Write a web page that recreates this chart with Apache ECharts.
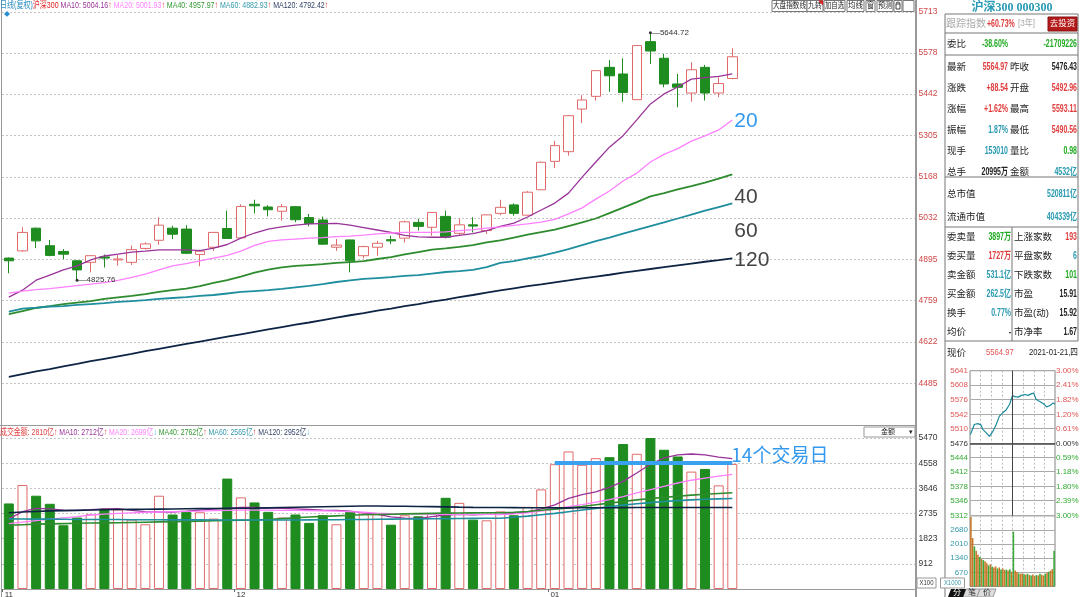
<!DOCTYPE html>
<html><head><meta charset="utf-8">
<script src="https://cdn.jsdelivr.net/npm/echarts@6.0.0/dist/echarts.min.js"></script>
<style>html,body{margin:0;padding:0;background:#fff;overflow:hidden}#c{width:1080px;height:597px}</style>
</head><body><div id="c"></div><script>
// ---------------- DATA ----------------
const dates = ['2020-11-06','2020-11-09','2020-11-10','2020-11-11','2020-11-12','2020-11-13','2020-11-16','2020-11-17','2020-11-18','2020-11-19','2020-11-20','2020-11-23','2020-11-24','2020-11-25','2020-11-26','2020-11-27','2020-11-30',
'2020-12-01','2020-12-02','2020-12-03','2020-12-04','2020-12-07','2020-12-08','2020-12-09','2020-12-10','2020-12-11','2020-12-14','2020-12-15','2020-12-16','2020-12-17','2020-12-18','2020-12-21','2020-12-22','2020-12-23','2020-12-24','2020-12-25','2020-12-28','2020-12-29','2020-12-30','2020-12-31',
'2021-01-04','2021-01-05','2021-01-06','2021-01-07','2021-01-08','2021-01-11','2021-01-12','2021-01-13','2021-01-14','2021-01-15','2021-01-18','2021-01-19','2021-01-20','2021-01-21'];
// [open, close, low, high]
const ohlc = [
[4899,4890,4849,4901],[4923,4984,4920,5001],[4998,4956,4932,5000],[4940,4908,4905,4959],[4921,4912,4896,4929],
[4890,4860,4825.76,4893],[4885,4907,4852,4909],[4903,4899,4868,4911],[4893,4896,4874,4909],[4885,4927,4876,4940],
[4931,4946,4927,4951],[4958,5008,4943,5034],[4998,4978,4962,5006],[4995,4915,4912,5008],[4911,4922,4872,4927],
[4935,4984,4923,4986],[4997,4964,4963,5056],[4966,5070,4965,5077],[5077,5072,5047,5092],[5068,5059,5037,5074],
[5054,5069,5023,5078],[5069,5026,5018,5071],[5033,5013,5004,5045],[5025,4945,4944,5036],[4935,4942,4923,4962],
[4959,4890,4852,4960],[4907,4937,4898,4940],[4935,4948,4907,4956],[4960,4956,4945,4973],[4965,5019,4951,5023],
[5017,5004,4990,5028],[5001,5050,4973,5051],[5037,4968,4964,5056],[4981,5009,4973,5030],[5009,5005,4984,5034],
[4990,5042,4979,5043],[5047,5067,5041,5092],[5075,5047,5039,5080],[5041,5117,5040,5121],[5125,5216,5124,5218],
[5219,5271,5197,5287],[5251,5370,5238,5371],[5392,5422,5346,5438],[5434,5519,5420,5520],[5530,5502,5449,5554],
[5508,5447,5416,5560],[5423,5602,5422,5603],[5615,5584,5541,5644.72],[5560,5475,5464,5574],[5475,5464,5398,5508],
[5445,5522,5416,5547],[5530,5445,5420,5538],[5445,5476.43,5431,5497],[5492.96,5564.97,5490.56,5593.11]];
const ma10 = [4770,4793,4826,4843,4860,4873,4893,4906,4912,4919,4922,4926,4926,4926,4924,4932,4944,4965,4982,4995,5002,5008,5012,5013,5014,5008,5000,4992,4984,4974,4969,4968,4968,4974,4980,4990,5004,5015,5035,5058,5081,5114,5167,5217,5266,5304,5356,5409,5442,5465,5491,5496,5500,5508];
const ma20 = [4783,4790,4795,4798,4803,4808,4813,4818,4825,4835,4846,4860,4873,4881,4890,4899,4908,4922,4941,4954,4959,4962,4965,4967,4970,4972,4975,4979,4982,4984,4984,4984,4986,4990,4993,4998,5002,5007,5012,5018,5027,5045,5065,5094,5121,5154,5180,5217,5242,5261,5286,5303,5323,5356];
const ma40 = [4714,4724,4734,4740,4747,4752,4757,4764,4769,4774,4780,4787,4793,4798,4806,4817,4826,4838,4851,4861,4868,4873,4876,4879,4883,4886,4889,4896,4902,4911,4919,4927,4931,4936,4942,4951,4958,4967,4977,4985,4993,5005,5017,5030,5048,5066,5084,5103,5114,5126,5137,5149,5162,5176];
const ma60 = [4722,4732,4735,4739,4740,4744,4747,4750,4754,4757,4760,4764,4767,4770,4774,4777,4782,4787,4790,4793,4797,4802,4807,4813,4820,4825,4830,4833,4836,4840,4843,4848,4853,4856,4860,4869,4883,4889,4898,4906,4917,4929,4942,4955,4967,4980,4992,5005,5017,5030,5043,5056,5068,5080];
const ma120 = [4506,4515,4524,4532,4541,4549,4558,4566,4574,4582,4591,4599,4607,4615,4623,4631,4639,4647,4655,4663,4671,4679,4686,4694,4702,4710,4717,4725,4732,4740,4747,4755,4762,4770,4777,4785,4792,4799,4806,4812,4819,4825,4832,4838,4844,4851,4857,4863,4869,4875,4881,4887,4892,4898];
// turnover (亿)
const amount = [3099,3768,3379,3087,2309,2588,2710,2917,2880,2516,2345,3379,2698,2795,2780,2552,3999,3318,3136,2795,2588,2698,2394,2674,2345,2795,2734,2710,2330,2671,2634,2732,3304,3121,2513,2488,2810,2671,2975,3608,4521,4983,4500,4740,4776,5251,4898,5470,5044,4801,4253,4350,3754,4532];
const vma10 = [2540,2800,2920,2900,2860,2850,2870,2900,2910,2850,2800,2790,2790,2820,2860,2890,2920,2960,2960,2940,2920,2900,2880,2860,2850,2820,2760,2700,2610,2570,2560,2620,2680,2700,2690,2700,2712,2740,2790,2900,3050,3280,3420,3520,3680,3900,4200,4520,4750,4860,4890,4860,4780,4720];
const vma20 = [2370,2420,2480,2530,2580,2620,2680,2710,2740,2760,2780,2790,2800,2810,2820,2840,2850,2860,2860,2860,2850,2850,2840,2830,2820,2800,2780,2750,2730,2720,2710,2700,2700,2700,2700,2700,2699,2720,2760,2820,2900,2980,3060,3150,3240,3350,3480,3600,3720,3840,3940,4020,4090,4156];
const vma40 = [2310,2330,2350,2360,2370,2380,2390,2395,2400,2410,2420,2430,2440,2450,2460,2470,2480,2490,2500,2520,2550,2580,2610,2630,2650,2670,2690,2700,2710,2720,2730,2740,2750,2755,2758,2760,2762,2780,2810,2850,2890,2940,2990,3050,3110,3170,3230,3280,3320,3360,3400,3430,3460,3486];
const vma60 = [2540,2535,2530,2530,2525,2520,2520,2515,2515,2510,2510,2510,2505,2505,2505,2500,2500,2500,2500,2500,2500,2500,2505,2510,2510,2515,2520,2525,2530,2535,2540,2545,2550,2555,2560,2562,2565,2600,2640,2690,2740,2800,2860,2920,2980,3040,3090,3130,3170,3200,3230,3250,3265,3280];
const vma120 = [2760,2790,2810,2830,2840,2850,2860,2870,2880,2885,2890,2895,2900,2905,2910,2915,2920,2925,2930,2940,2950,2960,2970,2980,2990,3000,3005,3005,3000,2995,2990,2985,2975,2965,2958,2955,2952,2948,2945,2942,2940,2940,2942,2944,2946,2948,2950,2950,2951,2951,2951,2951,2951,2951];
const priceTicks = [4485,4622,4759,4895,5032,5168,5305,5442,5578,5713];
const volTicks = [912,1823,2735,3646,4558,5470];
const streakLevel = 4558, streakStart = 40, streakEnd = 53, streakText = '14个交易日';
// intraday (mini chart)
const miniPriceTicks = [5312,5346,5378,5412,5444,5476,5510,5542,5576,5608,5641];
const miniPctLabels = ['3.00%','2.39%','1.80%','1.18%','0.59%','0.00%','0.61%','1.20%','1.82%','2.41%','3.00%'];
const miniPrevClose = 5476;
const miniVolTicks = [670,1340,2010,2680];
const intraday = [[1,5496],[8,5510],[12,5519],[22,5521],[31,5518],[36,5508],[46,5500],[55,5492],[65,5504],[74,5519],[83,5538],[93,5546],[102,5552],[112,5565],[120,5585],[126,5582],[136,5581],[145,5585],[155,5587],[164,5585],[174,5589],[180,5590],[186,5577],[193,5573],[202,5569],[209,5565],[216,5559],[226,5562],[235,5568],[240,5565]];
const intradayVol = [3300,2300,1900,1700,1500,1400,1300,1250,1200,1100,1000,1050,950,900,950,850,900,800,850,780,800,750,820,700,2600,750,680,620,600,620,580,560,600,540,520,560,500,540,520,600,560,520,600,650,700,750,820,1700];
const intradayDir = 'oogoogogoogogoogogoogogogoogoogogogoogogoogogoog';
// ---------------- CHART ----------------
const FN = '"Liberation Sans","Noto Sans CJK SC",sans-serif';
const FS = '"Liberation Sans","Noto Sans CJK SC",sans-serif';
const RED = '#E03C3C', GRN = '#22AA22', TEAL = '#2A9AB0', UPC = '#E06A6A', DNC = '#1E8C1E';
const C10 = '#993399', C20 = '#FF80FF', C40 = '#2E8B2E', C60 = '#1F8E9E', C120 = '#0E2444';
const pad = 13;
const cats = dates.concat(Array.from({length: pad}, (_, i) => 'pad' + i));
const isMonthStart = (idx) => idx < dates.length && (idx === 0 || dates[idx].slice(5, 7) !== dates[idx - 1].slice(5, 7));
const plain = (v) => String(Math.round(v));

const volData = amount.map((v, i) => ({
  value: v,
  itemStyle: ohlc[i][1] >= ohlc[i][0] ? {color: '#fff', borderColor: UPC, borderWidth: 1} : {color: DNC, borderColor: DNC, borderWidth: 1}
}));
const miniVolData = intradayVol.map((v, i) => ({value: v, itemStyle: {color: intradayDir[i] === 'g' ? '#3AAA3A' : '#C8782A'}}));

function maLine(name, data, color, width, xi, yi, endText, endColor, off) {
  const s = {name, type: 'line', data, xAxisIndex: xi, yAxisIndex: yi, symbol: 'none', silent: true,
    lineStyle: {color, width}, z: 3};
  if (endText) s.endLabel = {show: true, formatter: endText, color: endColor, fontSize: 21, fontFamily: FS, offset: off, distance: 2};
  return s;
}
const miniColor = (v) => { v = +v; return v > miniPrevClose + 1 ? '#E05555' : (v < miniPrevClose - 1 ? '#33AA33' : '#333'); };

// graphic helpers
const G = [];
function txt(x, y, text, o, sx) { G.push({type: 'text', x, y, scaleX: sx || 1, silent: true, z: 100, style: Object.assign({text, fontSize: 9, fill: '#222', fontFamily: FS, textVerticalAlign: 'middle', verticalAlign: 'middle'}, o || {})}); }
function num(x, y, text, color, align) { txt(x, y, text, {fill: color, fontSize: 10, fontWeight: 'bold', fontFamily: FN, textAlign: align || 'right', align: align || 'right'}, 0.7); }
function ln(x1, y1, x2, y2, stroke, lw, dash) { G.push({type: 'line', silent: true, z: 90, shape: {x1, y1, x2, y2}, style: {stroke, lineWidth: lw || 1, lineDash: dash || null}}); }
function rc(x, y, w, h, fill, stroke) { G.push({type: 'rect', silent: true, z: 95, shape: {x, y, width: w, height: h}, style: {fill: fill || 'none', stroke: stroke || null, lineWidth: 1}}); }

// frame lines
ln(1.5, 0, 1.5, 597, '#999', 1);
ln(916, 0, 916, 597, '#999', 2);
ln(0, 425.5, 916, 425.5, '#999', 1.2);
// header
const rs = (c) => ({fill: c, fontSize: 9.5, fontFamily: FN});
G.push({type: 'text', x: 0, y: 5, scaleX: 0.74, silent: true, z: 100, style: {
  text: '{a|日线(复权)}{b|沪深300} {c|MA10: 5004.16}{u|↑} {d|MA20: 5001.93}{u|↑} {e|MA40: 4957.97}{u|↑} {f|MA60: 4882.93}{u|↑} {g|MA120: 4792.42}{u|↑}',
  fontSize: 9.5, fontFamily: FN, textVerticalAlign: 'middle', verticalAlign: 'middle',
  rich: {a: rs('#2A8FC0'), b: rs('#E02020'), c: rs(C10), d: rs(C20), e: rs('#339933'), f: rs('#3399AA'), g: rs('#334466'), u: rs('#E03030')}}});
txt(4, 14, '◆', {fill: '#2A8FD0', fontSize: 6});
// volume header
G.push({type: 'text', x: 0, y: 432, scaleX: 0.73, silent: true, z: 100, style: {
  text: '{a|成交金额: 2810亿}{u|↑} {c|MA10: 2712亿}{u|↑} {d|MA20: 2699亿}{w|↓} {e|MA40: 2762亿}{u|↑} {f|MA60: 2565亿}{u|↑} {g|MA120: 2952亿}{w|↓}',
  fontSize: 9.5, fontFamily: FN, textVerticalAlign: 'middle', verticalAlign: 'middle',
  rich: {a: rs('#E04040'), c: rs(C10), d: rs(C20), e: rs('#339933'), f: rs('#3399AA'), g: rs('#334466'), u: rs('#E03030'), w: rs('#33BBDD')}}});
rc(864, 427, 51, 10, '#fff', '#999');
txt(888, 432, '金额', {fontSize: 7, textAlign: 'center', align: 'center'});
txt(909, 432, '▾', {fontSize: 7});
rc(917, 578, 19, 10, '#fff', '#999');
txt(926.5, 583, 'X100', {fontSize: 7, textAlign: 'center', align: 'center', fill: '#333'}, 0.85);
// toolbar
const tools = [['大盘指数线', 772, 35], ['九转', 807, 16], ['加自选', 824, 21], ['均线', 847, 17], ['窗', 866, 9], ['预测', 877, 16], ['', 894, 8], ['', 903, 11]];
tools.forEach(t => { rc(t[1], 0.5, t[2], 11, '#fff', '#777'); if (t[0]) txt(t[1] + t[2] / 2, 6, t[0], {fontSize: 8, textAlign: 'center', align: 'center'}, (t[2] - 2) / (t[0].length * 8)); });
G.push({type: 'polygon', silent: true, z: 101, shape: {points: [[818, 0.5], [823, 0.5], [823, 5.5]]}, style: {fill: '#E02020'}});
rc(896, 4, 4, 5, 'none', '#444'); G.push({type: 'arc', silent: true, z: 101, shape: {cx: 898, cy: 4, r: 2, startAngle: Math.PI, endAngle: 0}, style: {stroke: '#444', fill: 'none'}});
ln(905, 6, 911, 6, '#222', 1.5); ln(911, 3, 911, 9, '#222', 1.5);
// right info panel
txt(1012, 8, '沪深300 000300', {fill: '#2A9AB5', fontSize: 12, fontWeight: 'bold', fontFamily: '"Liberation Serif","Noto Sans CJK SC",serif', textAlign: 'center', align: 'center'});
ln(945, 14, 945, 597, '#777', 1);
ln(1078, 14, 1078, 341, '#777', 1);
[14, 33, 55, 177, 227, 341].forEach(y => ln(945, y, 1078, y, '#777', 1));
ln(1012, 227, 1012, 341, '#777', 1);
txt(946, 24, '跟踪指数', {fill: '#AAA', fontSize: 10});
num(987, 24, '+60.73%', RED, 'left');
txt(1018, 24, '[3年]', {fill: '#AAA', fontSize: 9}, 0.9);
rc(1048, 17, 29, 14, '#B51A1A', '#801010');
txt(1062.5, 24, '去投资', {fill: '#fff', fontSize: 8.5, textAlign: 'center', align: 'center'});
txt(947, 44, '委比', {fontSize: 9.5});
num(995, 44, '-38.60%', GRN, 'center');
num(1077, 44, '-21709226', GRN);
const block1 = [
  ['最新', '5564.97', RED, '昨收', '5476.43', '#222'],
  ['涨跌', '+88.54', RED, '开盘', '5492.96', RED],
  ['涨幅', '+1.62%', RED, '最高', '5593.11', RED],
  ['振幅', '1.87%', TEAL, '最低', '5490.56', RED],
  ['现手', '153010', TEAL, '量比', '0.98', GRN],
  ['总手', '20995万', '#222', '金额', '4532亿', TEAL]];
block1.forEach((r, k) => {
  const y = 67 + k * 21;
  txt(947, y, r[0], {fontSize: 9.5});
  num(1008, y, r[1], r[2]);
  txt(1010, y, r[3], {fontSize: 9.5});
  num(1077, y, r[4], r[5]);
});
const block2 = [['总市值', '520811亿'], ['流通市值', '404339亿']];
block2.forEach((r, k) => {
  const y = 194 + k * 23;
  txt(947, y, r[0], {fontSize: 9.5});
  num(1077, y, r[1], TEAL);
});
const block3 = [
  ['委卖量', '3897万', GRN, '上涨家数', '193', RED],
  ['委买量', '1727万', RED, '平盘家数', '6', TEAL],
  ['卖金额', '531.1亿', TEAL, '下跌家数', '101', GRN],
  ['买金额', '262.5亿', TEAL, '市盈', '15.91', '#222'],
  ['换手', '0.77%', TEAL, '市盈(动)', '15.92', '#222'],
  ['均价', '-', '#222', '市净率', '1.67', '#222']];
block3.forEach((r, k) => {
  const y = 237 + k * 19;
  txt(947, y, r[0], {fontSize: 9.5});
  num(1011, y, r[1], r[2]);
  txt(1014, y, r[3], {fontSize: 9.5});
  num(1077, y, r[4], r[5]);
});
txt(947, 353, '现价', {fontSize: 9.5});
txt(986, 353, '5564.97', {fill: '#E05555', fontSize: 9, fontFamily: FN}, 0.85);
txt(1078, 353, '2021-01-21,四', {fontSize: 9, fontFamily: FN, textAlign: 'right', align: 'right'}, 0.85);
rc(940.5, 578, 24, 10, '#fff', '#999');
txt(952.5, 583, 'X1000', {fontSize: 7, textAlign: 'center', align: 'center', fill: '#3399AA'}, 0.85);
G.push({type: 'polygon', silent: true, z: 100, shape: {points: [[948, 597], [951, 589], [966, 589], [963, 597]]}, style: {fill: '#111'}});
txt(957, 593, '分', {fill: '#fff', fontSize: 8, textAlign: 'center', align: 'center'});
G.push({type: 'polygon', silent: true, z: 99, shape: {points: [[963, 597], [966, 589], [980, 589], [977, 597]]}, style: {fill: '#ddd', stroke: '#999'}});
txt(972, 593, '笔', {fill: '#333', fontSize: 8, textAlign: 'center', align: 'center'});
G.push({type: 'polygon', silent: true, z: 99, shape: {points: [[977, 597], [980, 589], [996, 589], [993, 597]]}, style: {fill: '#ddd', stroke: '#999'}});
txt(987, 593, '价', {fill: '#333', fontSize: 8, textAlign: 'center', align: 'center'});

const option = {
  animation: false,
  backgroundColor: '#fff',
  textStyle: {fontFamily: FS},
  grid: [
    {left: 2, top: 12, width: 914.6, height: 413, outerBoundsMode: 'none'},
    {left: 2, top: 438, width: 914.6, height: 151, outerBoundsMode: 'none'},
    {left: 970, top: 370.7, width: 85, height: 145, outerBoundsMode: 'none', show: true, borderColor: '#888', borderWidth: 1, backgroundColor: 'transparent'},
    {left: 970, top: 515.7, width: 85, height: 70.7, outerBoundsMode: 'none', show: true, borderColor: '#888', borderWidth: 1, backgroundColor: 'transparent'}
  ],
  xAxis: [
    {type: 'category', gridIndex: 0, data: cats, boundaryGap: true, axisLine: {show: false}, axisTick: {show: false}, axisLabel: {show: false}, splitLine: {show: false}},
    {type: 'category', gridIndex: 1, data: cats, boundaryGap: true,
      axisLine: {show: true, lineStyle: {color: '#999', width: 1}},
      axisTick: {show: true, interval: (i) => isMonthStart(i), length: 3, inside: false, lineStyle: {color: '#666'}},
      axisLabel: {show: true, interval: (i) => isMonthStart(i), formatter: (v) => v.slice(5, 7), color: '#333', fontSize: 8, margin: 2, fontFamily: FN},
      splitLine: {show: false}},
    {type: 'value', gridIndex: 2, min: 0, max: 240, interval: 30, axisLine: {show: false}, axisTick: {show: false}, axisLabel: {show: false},
      splitLine: {show: true, lineStyle: {color: '#bbb', type: [2, 2], width: 1}}},
    {type: 'category', gridIndex: 3, data: intradayVol.map((v, i) => i), boundaryGap: true, axisLine: {show: false}, axisTick: {show: false}, axisLabel: {show: false},
      splitLine: {show: true, interval: 5, lineStyle: {color: '#bbb', type: [2, 2]}}}
  ],
  yAxis: [
    {type: 'value', gridIndex: 0, position: 'right', min: 4347, max: 5713,
      axisLine: {show: false}, axisTick: {show: false, customValues: priceTicks},
      axisLabel: {show: true, customValues: priceTicks, formatter: plain, color: '#D04848', fontSize: 8.5, margin: 2, fontFamily: FN},
      splitLine: {show: true, lineStyle: {color: '#c4c4c4', type: [2, 2], width: 1}}},
    {type: 'value', gridIndex: 1, position: 'right', min: 0, max: 5470,
      axisLine: {show: false}, axisTick: {show: false, customValues: volTicks},
      axisLabel: {show: true, customValues: volTicks, formatter: plain, color: '#333', fontSize: 8.5, margin: 2, fontFamily: FN},
      splitLine: {show: true, lineStyle: {color: '#c4c4c4', type: [2, 2], width: 1}}},
    {type: 'value', gridIndex: 2, position: 'left', min: 5312, max: 5641,
      axisLine: {show: false}, axisTick: {show: false, customValues: miniPriceTicks},
      axisLabel: {show: true, customValues: miniPriceTicks, formatter: plain, color: miniColor, fontSize: 8, margin: 2, fontFamily: FN},
      splitLine: {show: true, lineStyle: {color: '#aaa', width: 1}}},
    {type: 'value', gridIndex: 2, position: 'right', min: 5312, max: 5641,
      axisLine: {show: false}, axisTick: {show: false, customValues: miniPriceTicks},
      axisLabel: {show: true, customValues: miniPriceTicks, color: miniColor, fontSize: 8, margin: 1, fontFamily: FN,
        formatter: (v) => { const k = miniPriceTicks.indexOf(Math.round(v)); return k >= 0 ? miniPctLabels[k] : ''; }},
      splitLine: {show: false}},
    {type: 'value', gridIndex: 3, position: 'left', min: 0, max: 3360,
      axisLine: {show: false}, axisTick: {show: false, customValues: miniVolTicks},
      axisLabel: {show: true, customValues: miniVolTicks, formatter: plain, color: '#3399AA', fontSize: 8, margin: 2, fontFamily: FN},
      splitLine: {show: true, lineStyle: {color: '#aaa', width: 1}}}
  ],
  series: [
    {name: 'K', type: 'candlestick', xAxisIndex: 0, yAxisIndex: 0, data: ohlc, barWidth: 10, silent: true, z: 2,
      itemStyle: {color: '#fff', color0: DNC, borderColor: UPC, borderColor0: DNC, borderWidth: 1},
      markPoint: {symbol: 'circle', symbolSize: 3, silent: true, itemStyle: {color: '#333'},
        label: {show: true, position: 'right', distance: 0, color: '#333', fontSize: 8, fontFamily: FN, formatter: (p) => '—' + Number(p.value).toFixed(2)},
        data: [{type: 'max', valueDim: 'highest'}, {type: 'min', valueDim: 'lowest'}]}},
    maLine('MA10', ma10, C10, 1.3, 0, 0),
    maLine('MA20', ma20, C20, 1.3, 0, 0, '20', '#3399EE', [0, 1]),
    maLine('MA40', ma40, C40, 1.8, 0, 0, '40', '#444', [0, 23]),
    maLine('MA60', ma60, C60, 1.8, 0, 0, '60', '#444', [0, 28]),
    maLine('MA120', ma120, C120, 1.8, 0, 0, '120', '#444', [0, 2]),
    {name: 'AMT', type: 'bar', xAxisIndex: 1, yAxisIndex: 1, data: volData, barWidth: 10, silent: true, z: 2,
      markLine: {symbol: 'none', silent: true, z: 10,
        lineStyle: {color: '#3AA0F0', width: 4, type: 'solid'},
        label: {show: false},
        data: [[{coord: [dates[streakStart], streakLevel]}, {coord: [dates[streakEnd], streakLevel]}]]}},
    maLine('VMA10', vma10, C10, 1.3, 1, 1),
    maLine('VMA20', vma20, C20, 1.3, 1, 1),
    maLine('VMA40', vma40, C40, 1.6, 1, 1),
    maLine('VMA60', vma60, C60, 1.6, 1, 1),
    maLine('VMA120', vma120, C120, 1.6, 1, 1),
    {name: 'intraday', type: 'line', xAxisIndex: 2, yAxisIndex: 2, data: intraday, symbol: 'none', silent: true,
      lineStyle: {color: '#1A8A9A', width: 1.2},
      markLine: {symbol: 'none', silent: true, label: {show: false},
        data: [{yAxis: miniPrevClose, lineStyle: {color: '#444', width: 1.5, type: 'solid'}}, {xAxis: 120, lineStyle: {color: '#444', width: 1, type: 'solid'}}]}},
    {name: 'intradayVol', type: 'bar', xAxisIndex: 3, yAxisIndex: 4, data: miniVolData, barCategoryGap: '10%', silent: true}
  ],
  graphic: G
};
const chart = echarts.init(document.getElementById('c'), null, {renderer: 'canvas'});
chart.setOption(option);
// label for the streak line, positioned through the volume axes
const endPx = chart.convertToPixel({xAxisIndex: 1, yAxisIndex: 1}, [dates[streakEnd], streakLevel]);
G.push({type: 'text', x: endPx[0] - 1, y: endPx[1] - 8, silent: true, z: 120, style: {text: streakText, fill: '#3399EE', fontSize: 19,
  fontFamily: '"Noto Sans CJK SC","Liberation Sans",sans-serif', textVerticalAlign: 'middle', verticalAlign: 'middle'}});
chart.setOption({graphic: G});
</script></body></html>
